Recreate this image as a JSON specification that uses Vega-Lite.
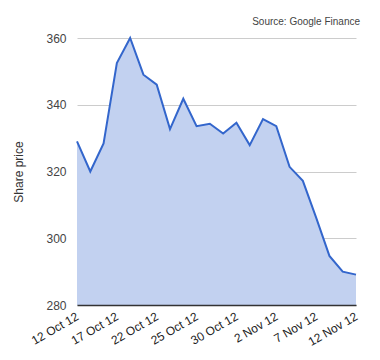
{
  "$schema": "https://vega.github.io/schema/vega-lite/v6.json",
  "width": 279,
  "height": 267,
  "autosize": {"type": "none"},
  "padding": {"left": 77, "top": 38, "right": 24, "bottom": 55},
  "background": "white",
  "config": {
    "view": {"stroke": null},
    "font": "Liberation Sans"
  },
  "title": {
    "text": "Source: Google Finance",
    "anchor": "end",
    "fontSize": 10,
    "fontWeight": "normal",
    "color": "#444444",
    "font": "Liberation Sans",
    "offset": 5
  },
  "data": {
    "values": [
      {"date": "12 Oct 12", "price": 329.0, "base": 280},
      {"date": "15 Oct 12", "price": 320.0, "base": 280},
      {"date": "16 Oct 12", "price": 328.4, "base": 280},
      {"date": "17 Oct 12", "price": 352.5, "base": 280},
      {"date": "18 Oct 12", "price": 360.0, "base": 280},
      {"date": "19 Oct 12", "price": 349.0, "base": 280},
      {"date": "22 Oct 12", "price": 346.0, "base": 280},
      {"date": "23 Oct 12", "price": 332.7, "base": 280},
      {"date": "24 Oct 12", "price": 341.8, "base": 280},
      {"date": "25 Oct 12", "price": 333.6, "base": 280},
      {"date": "26 Oct 12", "price": 334.3, "base": 280},
      {"date": "29 Oct 12", "price": 331.4, "base": 280},
      {"date": "30 Oct 12", "price": 334.6, "base": 280},
      {"date": "31 Oct 12", "price": 327.9, "base": 280},
      {"date": "1 Nov 12", "price": 335.7, "base": 280},
      {"date": "2 Nov 12", "price": 333.6, "base": 280},
      {"date": "5 Nov 12", "price": 321.4, "base": 280},
      {"date": "6 Nov 12", "price": 317.2, "base": 280},
      {"date": "7 Nov 12", "price": 306.2, "base": 280},
      {"date": "8 Nov 12", "price": 294.7, "base": 280},
      {"date": "9 Nov 12", "price": 290.0, "base": 280},
      {"date": "12 Nov 12", "price": 289.1, "base": 280}
    ]
  },
  "mark": {
    "type": "area",
    "color": "#c2d1f0",
    "opacity": 1,
    "line": {"color": "#3366cc", "strokeWidth": 2}
  },
  "encoding": {
    "x": {
      "field": "date",
      "type": "ordinal",
      "sort": null,
      "scale": {"type": "point", "padding": 0},
      "axis": {
        "title": null,
        "values": ["12 Oct 12", "17 Oct 12", "22 Oct 12", "25 Oct 12", "30 Oct 12", "2 Nov 12", "7 Nov 12", "12 Nov 12"],
        "labelAngle": -30,
        "labelAlign": "right",
        "labelBaseline": "middle",
        "labelFontSize": 12,
        "labelColor": "#222222",
        "labelPadding": 10,
        "labelOverlap": false,
        "labelBound": false,
        "ticks": false,
        "domain": true,
        "domainColor": "#333333",
        "domainWidth": 1.5,
        "grid": false,
        "zindex": 1
      }
    },
    "y": {
      "field": "price",
      "type": "quantitative",
      "scale": {"domain": [280, 360], "zero": false, "nice": false},
      "axis": {
        "title": "Share price",
        "titleFontSize": 12,
        "titleFontWeight": "normal",
        "titleColor": "#333333",
        "titlePadding": 20,
        "values": [280, 300, 320, 340, 360],
        "labelFontSize": 12,
        "labelColor": "#444444",
        "labelPadding": 11,
        "ticks": false,
        "domain": false,
        "grid": true,
        "gridColor": "#cccccc"
      }
    },
    "y2": {"field": "base"}
  }
}
